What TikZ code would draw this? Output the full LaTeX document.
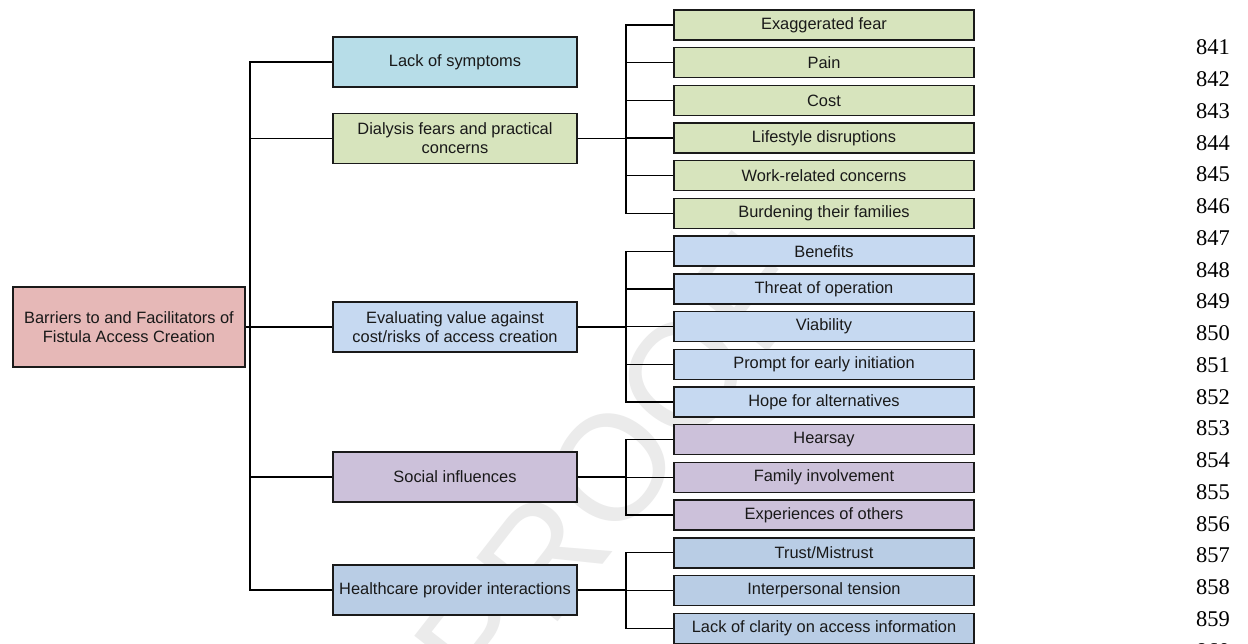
\documentclass[tikz,border=0pt]{standalone}
\usepackage{fontspec}
\setmainfont{Liberation Sans}
\newfontfamily\numfont{Liberation Serif}
\definecolor{cpink}{HTML}{E6B8B7}
\definecolor{ccyan}{HTML}{B7DDE8}
\definecolor{cgreen}{HTML}{D7E4BD}
\definecolor{cblue}{HTML}{C6D9F1}
\definecolor{cpurple}{HTML}{CCC1DA}
\definecolor{csteel}{HTML}{B9CDE5}
\definecolor{cedge}{HTML}{1A1A1A}
\tikzset{
  box/.style={draw=cedge, line width=1.4pt, font=\fontsize{16.4}{19}\selectfont, align=center, inner sep=0pt, text=black!90},
  lvtwo/.style={box, minimum width=244pt, minimum height=50pt},
  lvthree/.style={box, minimum width=300pt, minimum height=30pt},
  link/.style={line width=1.3pt, draw=black},
  linenum/.style={font=\numfont\fontsize{22.5}{22.5}\selectfont, anchor=center},
  wmark/.style={text=black!8, font=\fontsize{150}{150}\selectfont, rotate=52}
}
\begin{document}
\begin{tikzpicture}[x=1pt,y=-1pt]
\useasboundingbox (0,0) rectangle (1248,644);
\fill[white] (0,0) rectangle (1248,644);
% watermark
\node[wmark] (wm) at (612,468) {PROOF};

% root
\node[box, fill=cpink, minimum width=232pt, minimum height=80pt] (root) at (129,327) {Barriers to and Facilitators of\\Fistula Access Creation};

% level 2
\node[lvtwo, fill=ccyan]   (lack) at (455,62)    {Lack of symptoms};
\node[lvtwo, fill=cgreen]  (dial) at (455,138.5) {Dialysis fears and practical\\concerns};
\node[lvtwo, fill=cblue]   (eval) at (455,327)   {Evaluating value against\\cost/risks of access creation};
\node[lvtwo, fill=cpurple] (soc)  at (455,477)   {Social influences};
\node[lvtwo, fill=csteel]  (hc)   at (455,590)   {Healthcare provider interactions};

% level 3
\node[lvthree, fill=cgreen] (g1) at (824,25.0)  {Exaggerated fear};
\node[lvthree, fill=cgreen] (g2) at (824,62.7)  {Pain};
\node[lvthree, fill=cgreen] (g3) at (824,100.4) {Cost};
\node[lvthree, fill=cgreen] (g4) at (824,138.1) {Lifestyle disruptions};
\node[lvthree, fill=cgreen] (g5) at (824,175.8) {Work-related concerns};
\node[lvthree, fill=cgreen] (g6) at (824,213.5) {Burdening their families};

\node[lvthree, fill=cblue] (b1) at (824,251.2) {Benefits};
\node[lvthree, fill=cblue] (b2) at (824,288.9) {Threat of operation};
\node[lvthree, fill=cblue] (b3) at (824,326.6) {Viability};
\node[lvthree, fill=cblue] (b4) at (824,364.3) {Prompt for early initiation};
\node[lvthree, fill=cblue] (b5) at (824,402.0) {Hope for alternatives};

\node[lvthree, fill=cpurple] (p1) at (824,439.7) {Hearsay};
\node[lvthree, fill=cpurple] (p2) at (824,477.4) {Family involvement};
\node[lvthree, fill=cpurple] (p3) at (824,515.1) {Experiences of others};

\node[lvthree, fill=csteel] (h1) at (824,552.8) {Trust/Mistrust};
\node[lvthree, fill=csteel] (h2) at (824,590.5) {Interpersonal tension};
\node[lvthree, fill=csteel] (h3) at (824,628.2) {Lack of clarity on access information};

% connector columns
\coordinate (t) at (250,0);
\coordinate (b) at (626,0);

% trunk
\draw[link] (root.east) -- (eval.west);
\draw[link] (lack.west) -- (lack.west -| t) -- (hc.west -| t) -- (hc.west);
\draw[link] (dial.west) -- (dial.west -| t);
\draw[link] (soc.west) -- (soc.west -| t);

% green branch
\draw[link] (dial.east) -- (dial.east -| b);
\draw[link] (g1.west) -- (g1.west -| b) -- (g6.west -| b) -- (g6.west);
\foreach \n in {g2,g3,g4,g5} \draw[link] (\n.west) -- (\n.west -| b);

% blue branch
\draw[link] (eval.east) -- (eval.east -| b);
\draw[link] (b1.west) -- (b1.west -| b) -- (b5.west -| b) -- (b5.west);
\foreach \n in {b2,b3,b4} \draw[link] (\n.west) -- (\n.west -| b);

% purple branch
\draw[link] (soc.east) -- (soc.east -| b);
\draw[link] (p1.west) -- (p1.west -| b) -- (p3.west -| b) -- (p3.west);
\draw[link] (p2.west) -- (p2.west -| b);

% steel branch
\draw[link] (hc.east) -- (hc.east -| b);
\draw[link] (h1.west) -- (h1.west -| b) -- (h3.west -| b) -- (h3.west);
\draw[link] (h2.west) -- (h2.west -| b);

% line numbers
\foreach \k in {0,...,19} {
  \pgfmathtruncatemacro{\num}{841+\k}
  \node[linenum] (ln\k) at (1213, 47.5+31.75*\k) {\num};
}
\end{tikzpicture}
\end{document}
